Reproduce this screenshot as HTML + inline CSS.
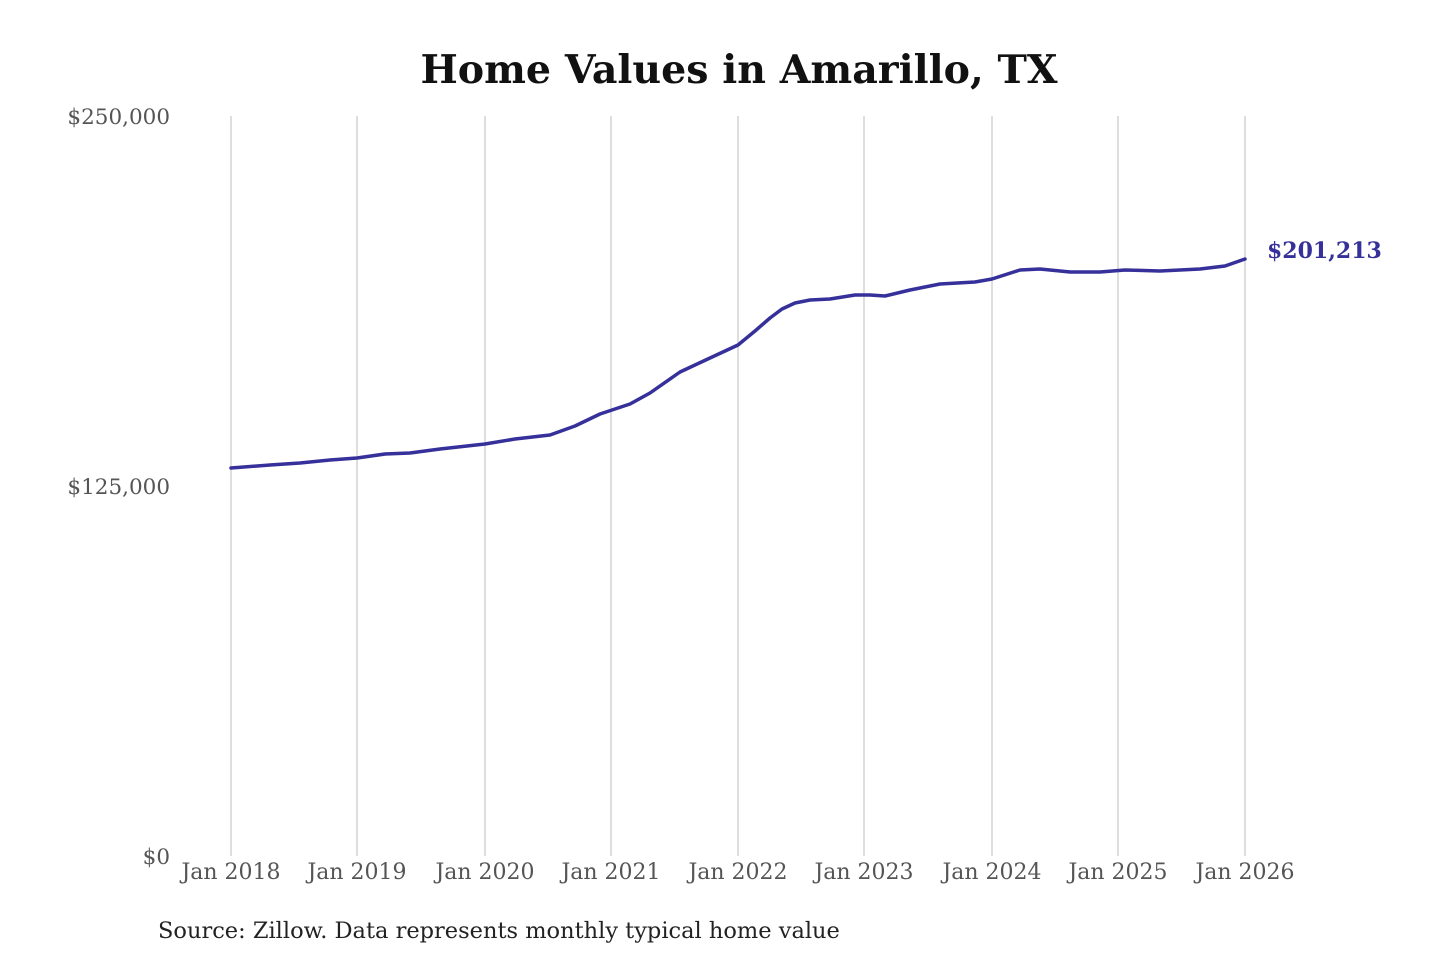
<!DOCTYPE html>
<html><head><meta charset="utf-8"><style>
html,body{margin:0;padding:0;background:#fff;width:1440px;height:960px;overflow:hidden}
</style></head><body>
<svg width="1440" height="960" xmlns="http://www.w3.org/2000/svg" font-family="'DejaVu Serif','Liberation Serif',serif">
<text x="739" y="83" text-anchor="middle" font-size="39.5" font-weight="bold" fill="#111">Home Values in Amarillo, TX</text>
<g stroke="#c8c8c8" stroke-width="1.2">
<line x1="231" y1="116" x2="231" y2="856"/><line x1="357" y1="116" x2="357" y2="856"/>
<line x1="485" y1="116" x2="485" y2="856"/><line x1="611" y1="116" x2="611" y2="856"/>
<line x1="738" y1="116" x2="738" y2="856"/><line x1="864" y1="116" x2="864" y2="856"/>
<line x1="992" y1="116" x2="992" y2="856"/><line x1="1118" y1="116" x2="1118" y2="856"/>
<line x1="1245" y1="116" x2="1245" y2="856"/>
</g>
<g font-size="21.5" fill="#555" text-anchor="end">
<text x="170" y="124">$250,000</text><text x="170" y="494">$125,000</text><text x="170" y="864">$0</text>
</g>
<g font-size="22" fill="#555" text-anchor="middle">
<text x="231" y="879">Jan 2018</text><text x="357" y="879">Jan 2019</text><text x="485" y="879">Jan 2020</text>
<text x="611" y="879">Jan 2021</text><text x="738" y="879">Jan 2022</text><text x="864" y="879">Jan 2023</text>
<text x="992" y="879">Jan 2024</text><text x="1118" y="879">Jan 2025</text><text x="1245" y="879">Jan 2026</text>
</g>
<polyline fill="none" stroke="#36309a" stroke-width="3.5" stroke-linejoin="round" stroke-linecap="round" points="231,468 270,465 300,463 330,460 357,458 385,454 410,453 440,449 485,444 515,439 550,435 575,426 600,414 630,404 650,393 680,372 710,358 738,345 755,331 770,318 782,309 795,303 810,300 830,299 855,295 870,295 885,296 910,290 940,284 975,282 992,279 1020,270 1040,269 1070,272 1100,272 1125,270 1160,271 1200,269 1225,266 1245,259"/>
<text x="1267" y="258" font-size="22" font-weight="bold" fill="#36309a">$201,213</text>
<text x="158" y="938" font-size="22.5" fill="#222">Source: Zillow. Data represents monthly typical home value</text>
</svg>
</body></html>
